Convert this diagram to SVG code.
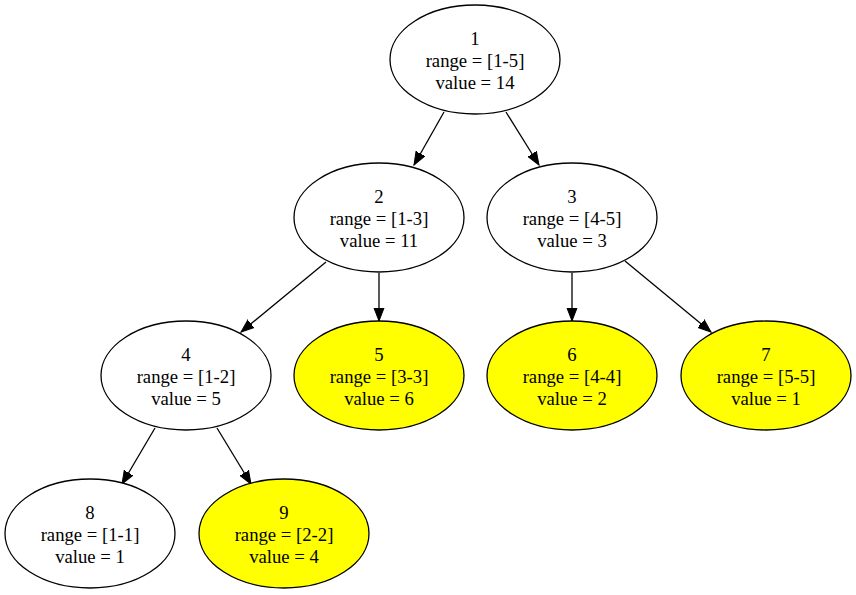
<svg xmlns="http://www.w3.org/2000/svg" width="856" height="595" viewBox="0 0 856 595">
<style>
.n ellipse{fill:#fff;stroke:#000;stroke-width:1.3}
.n.y ellipse{fill:#ffff00}
.n text{font-family:"Liberation Serif","Times New Roman",serif;font-size:18.7px;text-anchor:middle;fill:#000}
.e line{stroke:#000;stroke-width:1.3;marker-end:url(#a)}
</style>
<defs>
<marker id="a" markerUnits="userSpaceOnUse" markerWidth="16" markerHeight="14" refX="13" refY="5" orient="auto" viewBox="0 0 16 10">
<path d="M0,0 L13,5 L0,10 Z" fill="#000" stroke="#000" stroke-width="1"/>
</marker>
</defs>
<rect width="856" height="595" fill="#fff"/>
<g id="edges" class="e">
<line x1="444" y1="112" x2="414" y2="165"/>
<line x1="506" y1="112" x2="539" y2="165"/>
<line x1="326" y1="262" x2="241" y2="332"/>
<line x1="379" y1="273" x2="379" y2="321"/>
<line x1="572" y1="273" x2="572" y2="321"/>
<line x1="625" y1="261" x2="711" y2="332"/>
<line x1="155" y1="428" x2="122" y2="484"/>
<line x1="217" y1="428" x2="251" y2="484"/>
</g>
<g id="n1" class="n"><ellipse cx="475" cy="59.5" rx="85" ry="54.5"/><text x="475" y="44.5">1</text><text x="475" y="66.5">range = [1-5]</text><text x="475" y="88.5">value = 14</text></g>
<g id="n2" class="n"><ellipse cx="379" cy="217.5" rx="85" ry="54.5"/><text x="379" y="202.5">2</text><text x="379" y="224.5">range = [1-3]</text><text x="379" y="246.5">value = 11</text></g>
<g id="n3" class="n"><ellipse cx="572" cy="217.5" rx="85" ry="54.5"/><text x="572" y="202.5">3</text><text x="572" y="224.5">range = [4-5]</text><text x="572" y="246.5">value = 3</text></g>
<g id="n4" class="n"><ellipse cx="186" cy="375.5" rx="85" ry="54.5"/><text x="186" y="360.5">4</text><text x="186" y="382.5">range = [1-2]</text><text x="186" y="404.5">value = 5</text></g>
<g id="n5" class="n y"><ellipse cx="379" cy="375.5" rx="85" ry="54.5"/><text x="379" y="360.5">5</text><text x="379" y="382.5">range = [3-3]</text><text x="379" y="404.5">value = 6</text></g>
<g id="n6" class="n y"><ellipse cx="572" cy="375.5" rx="85" ry="54.5"/><text x="572" y="360.5">6</text><text x="572" y="382.5">range = [4-4]</text><text x="572" y="404.5">value = 2</text></g>
<g id="n7" class="n y"><ellipse cx="766" cy="375.5" rx="85" ry="54.5"/><text x="766" y="360.5">7</text><text x="766" y="382.5">range = [5-5]</text><text x="766" y="404.5">value = 1</text></g>
<g id="n8" class="n"><ellipse cx="90" cy="533.5" rx="85" ry="54.5"/><text x="90" y="518.5">8</text><text x="90" y="540.5">range = [1-1]</text><text x="90" y="562.5">value = 1</text></g>
<g id="n9" class="n y"><ellipse cx="284" cy="533.5" rx="85" ry="54.5"/><text x="284" y="518.5">9</text><text x="284" y="540.5">range = [2-2]</text><text x="284" y="562.5">value = 4</text></g>
</svg>
